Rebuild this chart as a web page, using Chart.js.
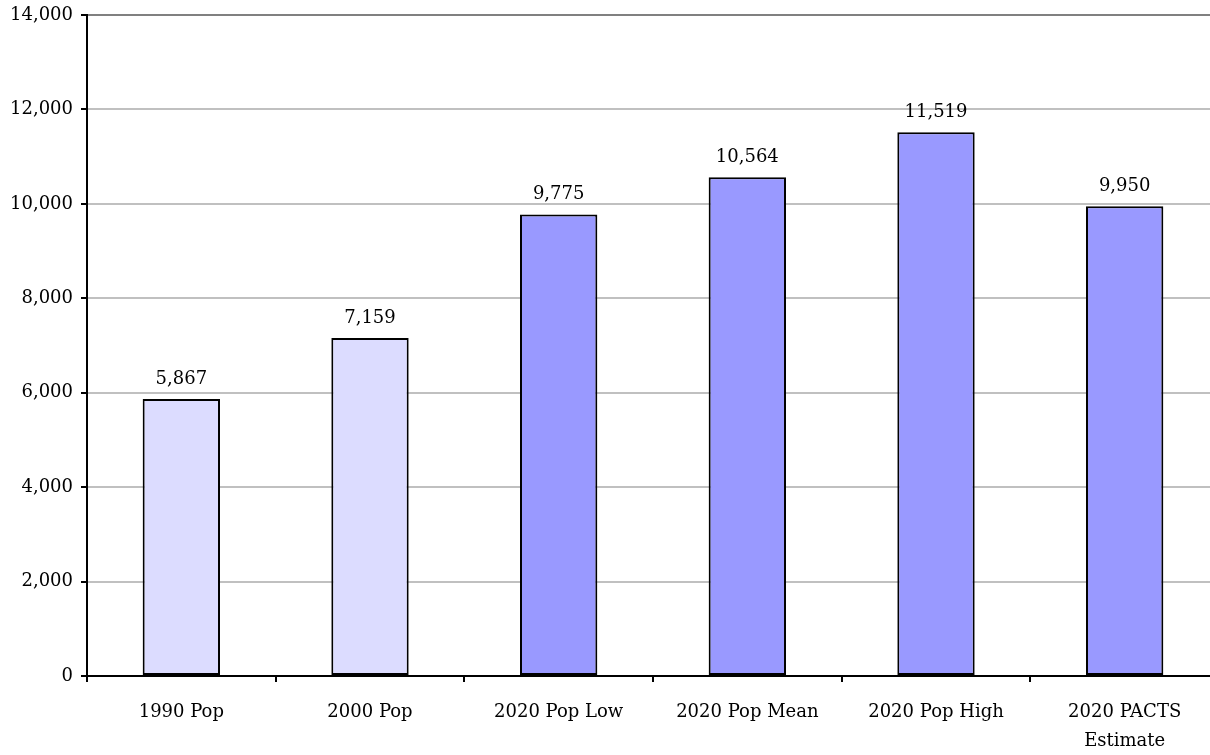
<!DOCTYPE html>
<html>
<head>
<meta charset="utf-8">
<script src="https://cdn.jsdelivr.net/npm/chart.js@4"></script>
<style>
  html, body { margin: 0; padding: 0; background: #fff; overflow: hidden; }
  #wrap { width: 1219px; height: 755px; }
</style>
</head>
<body>
<div id="wrap"><canvas id="chart"></canvas></div>
<script>
const categories = ["1990 Pop", "2000 Pop", "2020 Pop Low", "2020 Pop Mean", "2020 Pop High", ["2020 PACTS", "Estimate"]];
const population = [5867, 7159, 9775, 10564, 11519, 9950];
const barColors = ["#dcdcff", "#dcdcff", "#9999ff", "#9999ff", "#9999ff", "#9999ff"];
const yTicks = [0, 2000, 4000, 6000, 8000, 10000, 12000, 14000];

const font = "'DejaVu Serif', serif";

// value printed above each bar
const valueLabels = {
  id: "valueLabels",
  afterDatasetsDraw(chart) {
    const ctx = chart.ctx;
    const meta = chart.getDatasetMeta(0);
    ctx.save();
    ctx.font = "18px " + font;
    ctx.fillStyle = "#000";
    ctx.textAlign = "center";
    ctx.textBaseline = "bottom";
    meta.data.forEach((bar, i) => {
      ctx.fillText(population[i].toLocaleString("en-US"), bar.x, bar.y - 11);
    });
    ctx.restore();
  }
};

new Chart(document.getElementById("chart"), {
  type: "bar",
  data: {
    labels: categories,
    datasets: [{
      data: population,
      backgroundColor: barColors,
      borderColor: "#000",
      borderWidth: 2,
      borderSkipped: false,
      barPercentage: 0.41,
      categoryPercentage: 1
    }]
  },
  options: {
    responsive: true,
    maintainAspectRatio: false,
    animation: false,
    layout: { padding: { top: 15, right: 0, left: 0, bottom: 0 } },
    plugins: { legend: { display: false }, tooltip: { enabled: false } },
    scales: {
      x: {
        offset: true,
        grid: { offset: true, drawOnChartArea: false, color: "#000", tickColor: "#000", tickLength: 6, lineWidth: 2 },
        border: { color: "#000", width: 2 },
        ticks: { color: "#000", font: { family: font, size: 18, lineHeight: 1.6 }, padding: 16, maxRotation: 0, autoSkip: false },
        afterFit(scale) { scale.height = 79; }
      },
      y: {
        min: 0,
        max: 14000,
        afterBuildTicks(scale) { scale.ticks = yTicks.map(v => ({ value: v })); },
        grid: {
          color: ctx => ctx.tick && ctx.tick.value === 14000 ? "#808080" : "#c0c0c0",
          lineWidth: 2,
          tickColor: "#000",
          tickLength: 6
        },
        border: { color: "#000", width: 2 },
        ticks: {
          color: "#000",
          font: { family: font, size: 18 },
          padding: 8,
          callback: v => v.toLocaleString("en-US")
        },
        afterFit(scale) {
          scale.width = 87;
          scale.paddingTop = 0;
          scale.paddingBottom = 0;
        }
      }
    }
  },
  plugins: [valueLabels]
});
</script>
</body>
</html>
